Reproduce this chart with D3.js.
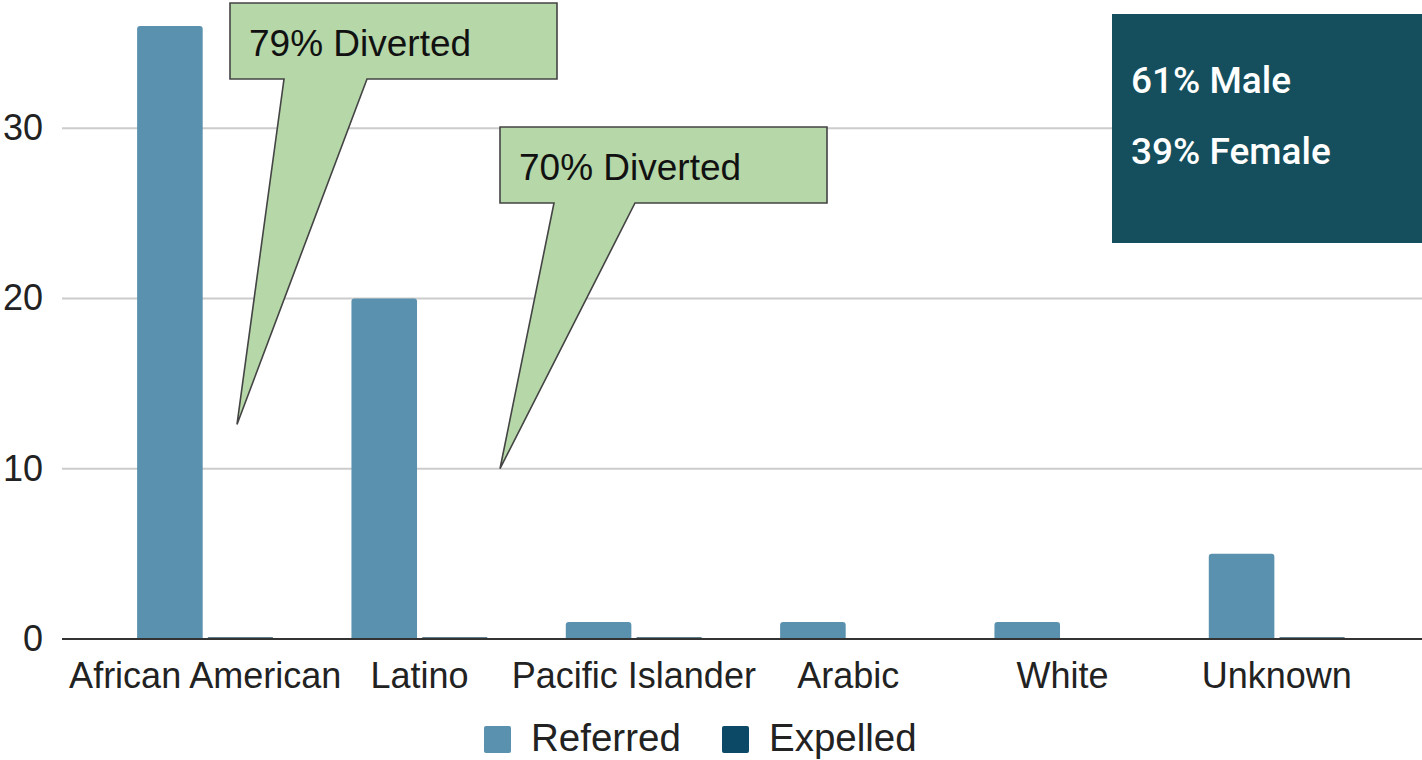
<!DOCTYPE html>
<html>
<head>
<meta charset="utf-8">
<script src="https://cdn.jsdelivr.net/npm/d3@7"></script>
<style>
  html, body { margin: 0; padding: 0; background: #fff; }
  svg { display: block; }
</style>
</head>
<body>
<svg id="chart" width="1422" height="760"></svg>
<script>
// Referrals and expulsions by ethnicity
const categories = ["African American", "Latino", "Pacific Islander", "Arabic", "White", "Unknown"];
const seriesNames = ["Referred", "Expelled"];
const referred = [36, 20, 1, 1, 1, 5];
const expelled = [0.1, 0.1, 0.1, 0, 0, 0.1];
const yTicks = [0, 10, 20, 30];
const callouts = ["79% Diverted", "70% Diverted"];
const genderLines = ["61% Male", "39% Female"];

const colors = { Referred: "#5a91ae", Expelled: "#0b4966" };
const values = { Referred: referred, Expelled: expelled };

const svg = d3.select("#chart");
const plot = { left: 62, right: 1422, top: 26, bottom: 639 };

const y = d3.scaleLinear().domain([0, 36]).range([plot.bottom, plot.top]);
const x0 = d3.scaleBand().domain(categories).range([98, 1384])
  .paddingInner(0.365).paddingOuter(0.1825);
const x1 = d3.scaleBand().domain(seriesNames).range([0, x0.bandwidth()]).paddingInner(0.07);

const font = "'Liberation Sans', Arial, sans-serif";

// gridlines
svg.append("g")
  .selectAll("line")
  .data(yTicks.filter(d => d > 0))
  .join("line")
  .attr("x1", plot.left).attr("x2", plot.right)
  .attr("y1", d => y(d)).attr("y2", d => y(d))
  .attr("stroke", "#cccccc").attr("stroke-width", 2);

// y tick labels
const yAxis = svg.append("g")
  .attr("transform", `translate(${plot.left},0)`)
  .call(d3.axisLeft(y).tickValues(yTicks).tickSize(0).tickPadding(19));
yAxis.select(".domain").remove();
yAxis.selectAll("text")
  .attr("font-family", font).attr("font-size", 36).attr("fill", "#222");

// bars, clipped to the plot area
svg.append("clipPath").attr("id", "plotClip")
  .append("rect").attr("x", plot.left).attr("y", plot.top)
  .attr("width", plot.right - plot.left).attr("height", plot.bottom - plot.top);

const groups = svg.append("g").attr("clip-path", "url(#plotClip)")
  .selectAll("g")
  .data(categories)
  .join("g")
  .attr("transform", d => `translate(${x0(d)},0)`);

groups.selectAll("path")
  .data((c, i) => seriesNames.map(s => ({ s, v: values[s][i] })).filter(d => d.v > 0))
  .join("path")
  .attr("d", d => {
    const bx = x1(d.s), bw = x1.bandwidth();
    const top = y(d.v), bot = y(0);
    const r = Math.min(3, (bot - top) / 2);
    return `M${bx},${bot} V${top + r} Q${bx},${top} ${bx + r},${top} H${bx + bw - r} Q${bx + bw},${top} ${bx + bw},${top + r} V${bot} Z`;
  })
  .attr("fill", d => d.v < 0.5 ? "#2f5566" : colors[d.s]);

// baseline
svg.append("line")
  .attr("x1", plot.left).attr("x2", plot.right)
  .attr("y1", y(0)).attr("y2", y(0))
  .attr("stroke", "#333").attr("stroke-width", 2);

// category labels
const xAxis = svg.append("g")
  .attr("transform", `translate(0,${y(0)})`)
  .call(d3.axisBottom(x0).tickSize(0).tickPadding(23));
xAxis.select(".domain").remove();
xAxis.selectAll("text")
  .attr("font-family", font).attr("font-size", 36).attr("fill", "#222");

// legend
const legend = svg.append("g");
const legendItems = [
  { name: seriesNames[0], x: 484 },
  { name: seriesNames[1], x: 722 }
];
legendItems.forEach(it => {
  legend.append("rect")
    .attr("x", it.x).attr("y", 726).attr("width", 27).attr("height", 27)
    .attr("rx", 2).attr("fill", colors[it.name]);
  legend.append("text")
    .attr("x", it.x + 47).attr("y", 751)
    .attr("font-family", font).attr("font-size", 38.5).attr("fill", "#222")
    .text(it.name);
});

// speech-bubble callouts anchored to the value axis
const bubbleSpecs = [
  { text: callouts[0], x: 230, y: 3, w: 327, h: 76, t1: 284, t2: 367, tipX: 237, tipV: 12.6 },
  { text: callouts[1], x: 500, y: 127, w: 327, h: 76, t1: 554, t2: 635, tipX: 500, tipV: 10 }
];
bubbleSpecs.forEach(b => {
  const tipY = y(b.tipV);
  const d = `M${b.x},${b.y} H${b.x + b.w} V${b.y + b.h} H${b.t2} L${b.tipX},${tipY} L${b.t1},${b.y + b.h} H${b.x} Z`;
  svg.append("path").attr("d", d)
    .attr("fill", "#b6d7a8").attr("stroke", "#444").attr("stroke-width", 1.6)
    .attr("stroke-linejoin", "miter");
  svg.append("text")
    .attr("x", b.x + 19).attr("y", b.y + 53)
    .attr("font-family", font).attr("font-size", 37).attr("fill", "#111")
    .text(b.text);
});

// gender summary box
svg.append("rect")
  .attr("x", 1112).attr("y", 14).attr("width", 310).attr("height", 229)
  .attr("fill", "#154f5d");
svg.selectAll("text.gender")
  .data(genderLines)
  .join("text")
  .attr("class", "gender")
  .attr("x", 1131).attr("y", (d, i) => 93 + i * 71)
  .attr("font-family", "Roboto, sans-serif").attr("font-size", 37).attr("font-weight", 500)
  .attr("fill", "#fff")
  .text(d => d);
</script>
</body>
</html>
